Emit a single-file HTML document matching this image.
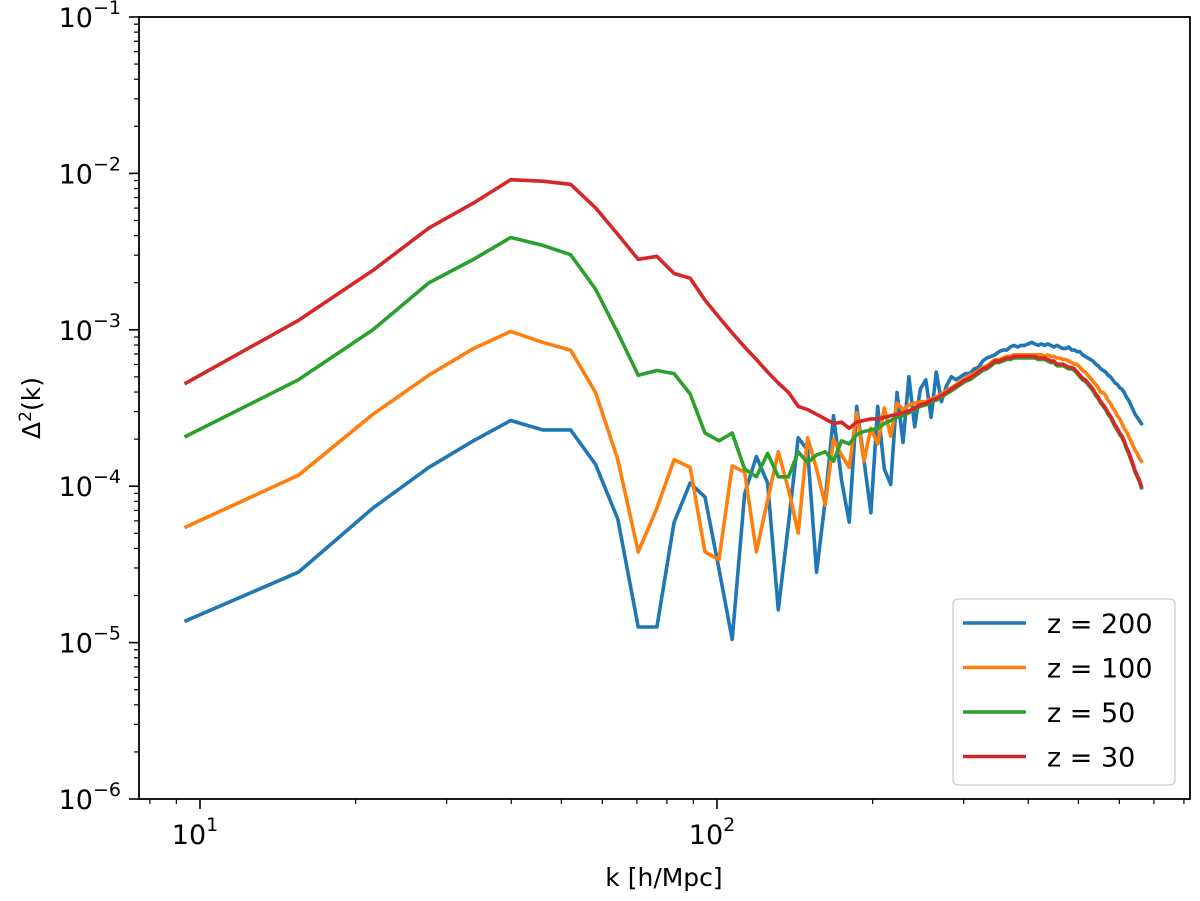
<!DOCTYPE html>
<html><head><meta charset="utf-8">
<style>
html,body{margin:0;padding:0;background:#fff;}
svg{display:block;font-family:"DejaVu Sans","Liberation Sans",sans-serif;}
</style></head>
<body>
<svg id="chart" width="1200" height="901" viewBox="0 0 1200 901" xmlns="http://www.w3.org/2000/svg">
<rect width="1200" height="901" fill="#fff"/>
<g id="series"></g>
<g id="axes"></g>
<text x="664" y="886" font-size="25" text-anchor="middle" fill="#000">k [h/Mpc]</text>
<text transform="translate(40,408) rotate(-90)" font-size="25" text-anchor="middle" fill="#000">Δ<tspan dy="-9" font-size="17">2</tspan><tspan dy="9">(k)</tspan></text>
<g id="legend"></g>
</svg>
<script>
// ---- data (log10 of Δ²(k), stored as negative exponents magnitude) ----
const modeIndex = Array.from({length:108},(_,i)=>i+1);
const kStep = 6.1, kOffset = 3.3;
const seriesLabels = ["z = 200","z = 100","z = 50","z = 30"];
const seriesColors = ["#1f77b4","#ff7f0e","#2ca02c","#d62728"];
const yTickExps = [-6,-5,-4,-3,-2,-1];
const xTickExps = [1,2];

const negLogZ200 = [4.86,4.55,4.14,3.88,3.71,3.58,3.64,3.64,3.86,4.21,
4.90,4.90,4.23,3.98,4.07,4.53,4.98,4.05,3.81,3.98,
4.79,4.24,3.69,3.77,4.55,4.09,3.55,3.96,4.23,3.49,
3.83,4.17,3.49,3.89,3.99,3.40,3.72,3.30,3.62,3.38,
3.32,3.56,3.27,3.46,3.36,3.30,3.32,3.30,3.28,3.28,
3.25,3.24,3.20,3.18,3.17,3.16,3.14,3.13,3.13,3.11,
3.10,3.11,3.10,3.10,3.09,3.08,3.09,3.10,3.09,3.10,
3.09,3.10,3.11,3.10,3.11,3.12,3.12,3.11,3.13,3.13,
3.14,3.14,3.16,3.17,3.18,3.19,3.20,3.22,3.23,3.25,
3.26,3.27,3.29,3.30,3.32,3.34,3.35,3.37,3.38,3.40,
3.43,3.45,3.48,3.51,3.54,3.56,3.58,3.60];

const negLogZ100 = [4.26,3.93,3.54,3.29,3.12,3.01,3.08,3.13,3.40,3.83,
4.42,4.14,3.83,3.88,4.42,4.47,3.87,3.91,4.42,4.09,
3.78,4.02,4.30,3.69,3.89,4.12,3.70,3.80,3.88,3.53,
3.84,3.63,3.73,3.50,3.68,3.47,3.51,3.48,3.47,3.46,
3.46,3.44,3.43,3.41,3.39,3.37,3.35,3.33,3.31,3.29,
3.28,3.26,3.24,3.23,3.21,3.19,3.19,3.18,3.17,3.17,
3.16,3.16,3.16,3.16,3.16,3.16,3.16,3.16,3.16,3.17,
3.16,3.17,3.17,3.18,3.18,3.19,3.19,3.20,3.21,3.22,
3.22,3.24,3.26,3.27,3.29,3.31,3.33,3.35,3.37,3.40,
3.40,3.42,3.45,3.47,3.50,3.52,3.55,3.57,3.60,3.63,
3.65,3.68,3.71,3.74,3.77,3.79,3.82,3.84];

const negLogZ50 = [3.68,3.32,3.00,2.70,2.55,2.41,2.46,2.52,2.74,3.02,
3.29,3.26,3.28,3.41,3.66,3.71,3.66,3.89,3.94,3.79,
3.94,3.94,3.78,3.85,3.80,3.78,3.84,3.71,3.73,3.67,
3.65,3.64,3.63,3.60,3.58,3.56,3.55,3.53,3.51,3.49,
3.48,3.46,3.45,3.43,3.41,3.39,3.37,3.35,3.33,3.32,
3.30,3.28,3.26,3.25,3.23,3.21,3.21,3.20,3.19,3.19,
3.18,3.18,3.18,3.18,3.18,3.18,3.18,3.19,3.19,3.19,
3.20,3.21,3.21,3.23,3.23,3.23,3.24,3.25,3.25,3.26,
3.28,3.30,3.32,3.33,3.35,3.37,3.39,3.42,3.44,3.47,
3.49,3.51,3.54,3.56,3.59,3.62,3.64,3.67,3.69,3.72,
3.76,3.79,3.83,3.87,3.91,3.94,3.97,4.01];

const negLogZ30 = [3.34,2.94,2.62,2.35,2.19,2.04,2.05,2.07,2.22,2.39,
2.55,2.53,2.64,2.67,2.81,2.92,3.02,3.11,3.19,3.27,
3.34,3.40,3.49,3.51,3.54,3.57,3.60,3.59,3.63,3.59,
3.58,3.57,3.57,3.56,3.55,3.54,3.53,3.52,3.50,3.48,
3.47,3.45,3.44,3.42,3.40,3.38,3.36,3.34,3.32,3.31,
3.29,3.27,3.25,3.24,3.22,3.20,3.20,3.19,3.18,3.18,
3.17,3.17,3.17,3.17,3.17,3.17,3.17,3.18,3.18,3.18,
3.19,3.20,3.20,3.22,3.22,3.22,3.23,3.24,3.24,3.25,
3.27,3.29,3.31,3.32,3.34,3.36,3.38,3.41,3.43,3.46,
3.48,3.50,3.53,3.55,3.58,3.61,3.63,3.66,3.68,3.71,
3.75,3.78,3.82,3.86,3.90,3.93,3.96,4.00];

// ---- axes geometry ----
const L=139, R=1190, T=17, B=799;
const xLogMin = 1 + (L-200)/517, xLogMax = 1 + (R-200)/517;
const yLogMin = -6, yLogMax = -1;
function xScale(k){return L + (Math.log10(k)-xLogMin)/(xLogMax-xLogMin)*(R-L);}
function yScale(v){return B - (Math.log10(v)-yLogMin)/(yLogMax-yLogMin)*(B-T);}
const NS="http://www.w3.org/2000/svg";
function mk(tag,attrs,parent){const e=document.createElementNS(NS,tag);for(const a in attrs)e.setAttribute(a,attrs[a]);parent.appendChild(e);return e;}

const kValues = modeIndex.map(n=>kStep*n+kOffset);
const allSeries = [negLogZ200,negLogZ100,negLogZ50,negLogZ30].map(a=>a.map(v=>Math.pow(10,-v)));
const seriesNames = ["line-z200","line-z100","line-z50","line-z30"];

const sg=document.getElementById('series');
allSeries.forEach((vals,si)=>{
  const d=vals.map((v,i)=>(i?'L':'M')+xScale(kValues[i]).toFixed(1)+','+yScale(v).toFixed(1)).join(' ');
  const p=mk('path',{d:d,fill:'none',stroke:seriesColors[si],'stroke-width':3.6,'stroke-linejoin':'round','stroke-linecap':'square'},sg);
  
  
});

// ---- axes ----
const ag=document.getElementById('axes');
const frame=mk('rect',{x:L,y:T,width:R-L,height:B-T,fill:'none',stroke:'#000','stroke-width':1.8},ag);


yTickExps.forEach(e=>{
  const y=yScale(Math.pow(10,e));
  const t=mk('line',{x1:L-10,x2:L,y1:y,y2:y,stroke:'#000','stroke-width':1.6},ag);
  
  
  const lb=mk('text',{x:L-18,y:y+10,'font-size':27,'text-anchor':'end',fill:'#000'},ag);
  
  
  lb.innerHTML='10<tspan dy="-13" font-size="19">\u2212'+Math.abs(e)+'</tspan>';
  if(e<-1){for(let m=2;m<=9;m++){const ym=yScale(m*Math.pow(10,e));
    const mt=mk('line',{x1:L-5,x2:L,y1:ym,y2:ym,stroke:'#000','stroke-width':1.2},ag);
    
    }}
});
xTickExps.forEach(e=>{
  const x=xScale(Math.pow(10,e));
  const t=mk('line',{x1:x,x2:x,y1:B,y2:B+10,stroke:'#000','stroke-width':1.6},ag);
  
  
  const lb=mk('text',{x:x-5,y:B+45,'font-size':27,'text-anchor':'middle',fill:'#000'},ag);
  
  
  lb.innerHTML='10<tspan dy="-13" font-size="19">'+e+'</tspan>';
});
for(let e=0;e<=2;e++){for(let m=2;m<=9;m++){const v=m*Math.pow(10,e);const x=xScale(v);
  if(x<L||x>R)continue;
  const mt=mk('line',{x1:x,x2:x,y1:B,y2:B+5,stroke:'#000','stroke-width':1.2},ag);
  
  }}

// ---- legend ----
const lg=document.getElementById('legend');
const box=mk('rect',{x:953,y:599,width:222,height:186,rx:5,fill:'#fff','fill-opacity':0.8,stroke:'#d6d6d6','stroke-width':1.6},lg);


seriesLabels.forEach((lab,i)=>{
  const y=623+i*44.5;
  const ln=mk('line',{x1:963,x2:1026,y1:y,y2:y,stroke:seriesColors[i],'stroke-width':3.6},lg);
  
  
  const tx=mk('text',{x:1047,y:y+10,'font-size':27,fill:'#000'},lg);
  
  
  tx.textContent=lab;
});
</script>
</body></html>
